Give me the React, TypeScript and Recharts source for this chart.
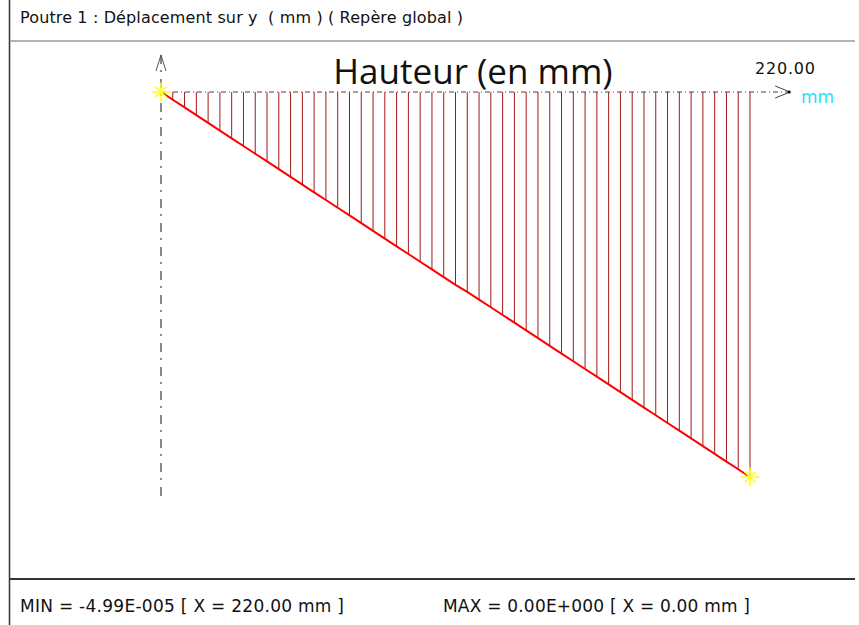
import React from 'react';
import { ComposedChart, Line, XAxis, YAxis, ReferenceLine, ReferenceDot } from 'recharts';

// abscisse le long de la poutre (mm)
const positions = [
  0, 4.4, 8.8, 13.2, 17.6, 22, 26.4, 30.8, 35.2, 39.6,
  44, 48.4, 52.8, 57.2, 61.6, 66, 70.4, 74.8, 79.2, 83.6,
  88, 92.4, 96.8, 101.2, 105.6, 110, 114.4, 118.8, 123.2, 127.6,
  132, 136.4, 140.8, 145.2, 149.6, 154, 158.4, 162.8, 167.2, 171.6,
  176, 180.4, 184.8, 189.2, 193.6, 198, 202.4, 206.8, 211.2, 215.6, 220,
];

// déplacement sur y (x 1E-005 mm)
const displacements = [
  0, -0.10, -0.20, -0.30, -0.40, -0.50, -0.60, -0.70, -0.80, -0.90,
  -1.00, -1.10, -1.20, -1.30, -1.40, -1.50, -1.60, -1.70, -1.80, -1.90,
  -2.00, -2.10, -2.20, -2.30, -2.40, -2.50, -2.59, -2.69, -2.79, -2.89,
  -2.99, -3.09, -3.19, -3.29, -3.39, -3.49, -3.59, -3.69, -3.79, -3.89,
  -3.99, -4.09, -4.19, -4.29, -4.39, -4.49, -4.59, -4.69, -4.79, -4.89, -4.99,
];

// extrémités marquées (étoiles)
const extremes = [
  { x: 0, y: 0 },
  { x: 220, y: -4.99 },
];

const xLabel = '220.00';
const unitLabel = 'mm';
const title = 'Hauteur (en mm)';
const header = 'Poutre 1 : Déplacement sur y \u00a0( mm ) ( Repère global )';
const minText = 'MIN = -4.99E-005 [ X = 220.00 mm ]';
const maxText = 'MAX = 0.00E+000 [ X = 0.00 mm ]';

// prolongement des axes au-delà des données
const axisXEnd = 235;
const axisYTop = 0.48;
const axisYBottom = -5.31;

const data = positions.map((x, i) => ({ x, y: displacements[i] }));

const W = 859;
const H = 625;
const uiFont = '"DejaVu Sans", Verdana, sans-serif';

const Star = (props: any) => {
  const { cx, cy } = props;
  if (cx == null || cy == null) return null;
  const r = 9.5;
  const rays = [0, 45, 90, 135].map((a) => {
    const rad = (a * Math.PI) / 180;
    const k = a % 90 === 0 ? 1 : 0.8;
    const dx = Math.cos(rad) * r * k;
    const dy = Math.sin(rad) * r * k;
    return <line key={a} x1={cx - dx} y1={cy - dy} x2={cx + dx} y2={cy + dy} stroke="#ffff20" strokeWidth={1.6} />;
  });
  return <g>{rays}</g>;
};

const ArrowRight = (props: any) => {
  const { cx, cy } = props;
  if (cx == null) return null;
  return (
    <g>
      <polyline points={`${cx - 15},${cy - 6} ${cx},${cy} ${cx - 15},${cy + 6}`} fill="none" stroke="#444" strokeWidth={1} />
      <circle cx={cx - 1} cy={cy} r={1.5} fill="#000" />
    </g>
  );
};

const ArrowUp = (props: any) => {
  const { cx, cy } = props;
  if (cx == null) return null;
  return (
    <polyline points={`${cx - 5},${cy + 16} ${cx},${cy} ${cx + 5},${cy + 16}`} fill="none" stroke="#555" strokeWidth={1} />
  );
};

export default function App() {
  return (
    <div style={{ position: 'absolute', left: 0, top: 0, width: W, height: H, background: '#fff', overflow: 'hidden' }}>
      <ComposedChart width={W} height={H} data={data} margin={{ top: 92, right: 109, bottom: 148, left: 161 }}>
        <XAxis dataKey="x" type="number" domain={[0, 220]} hide />
        <YAxis type="number" domain={[-4.99, 0]} hide allowDataOverflow />
        {/* axe vertical */}
        <ReferenceLine
          segment={[{ x: 0, y: axisYTop }, { x: 0, y: axisYBottom }]}
          stroke="#3a3a3a"
          strokeWidth={1.2}
          strokeDasharray="9 6 2 7"
          ifOverflow="visible"
        />
        {/* hachures */}
        {data.map((d) => (
          <ReferenceLine
            key={d.x}
            segment={[{ x: d.x, y: 0 }, { x: d.x, y: d.y }]}
            stroke="#a01818"
            strokeWidth={1}
            ifOverflow="visible"
          />
        ))}
        {/* axe horizontal */}
        <ReferenceLine
          segment={[{ x: 0, y: 0 }, { x: axisXEnd, y: 0 }]}
          stroke="#444"
          strokeDasharray="5 3 1 3"
          ifOverflow="visible"
        />
        <ReferenceDot x={axisXEnd} y={0} ifOverflow="visible" shape={<ArrowRight />} />
        <ReferenceDot x={0} y={axisYTop} ifOverflow="visible" shape={<ArrowUp />} />
        <Line type="linear" dataKey="y" stroke="#ff0000" strokeWidth={2} dot={false} isAnimationActive={false} />
        {extremes.map((p) => (
          <ReferenceDot key={p.x} x={p.x} y={p.y} ifOverflow="visible" shape={<Star />} />
        ))}
      </ComposedChart>
      <svg width={W} height={H} style={{ position: 'absolute', left: 0, top: 0, pointerEvents: 'none' }}>
        <line x1={9.5} y1={0} x2={9.5} y2={H} stroke="#333" strokeWidth={1.5} />
        <line x1={9} y1={41} x2={855} y2={41} stroke="#666" strokeWidth={1} />
        <line x1={9} y1={579} x2={855} y2={579} stroke="#333" strokeWidth={2} />
        <text x={20} y={23} fontFamily={uiFont} fontSize={16} fill="#111" textLength={443} lengthAdjust="spacing">{header}</text>
        <text x={473} y={84} textAnchor="middle" fontFamily='"Open Sans", sans-serif' fontSize={35} fill="#111">{title}</text>
        <text x={755} y={74} fontFamily={uiFont} fontSize={16} fill="#111" textLength={60} lengthAdjust="spacing">{xLabel}</text>
        <text x={801} y={103} fontFamily={uiFont} fontSize={17} fill="#1ee3f5">{unitLabel}</text>
        <text x={20} y={612} fontFamily={uiFont} fontSize={17} fill="#111" textLength={324} lengthAdjust="spacing">{minText}</text>
        <text x={443} y={612} fontFamily={uiFont} fontSize={17} fill="#111" textLength={307} lengthAdjust="spacing">{maxText}</text>
      </svg>
    </div>
  );
}
